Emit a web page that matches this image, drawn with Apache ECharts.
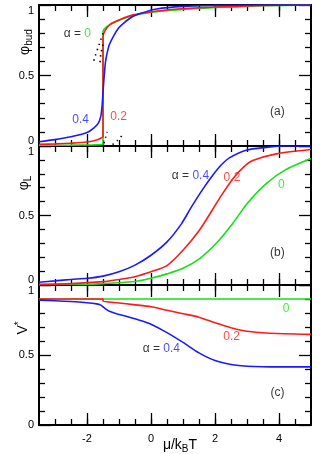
<!DOCTYPE html>
<html><head><meta charset="utf-8">
<script src="https://cdn.jsdelivr.net/npm/echarts@6/dist/echarts.min.js"></script>
<style>html,body{margin:0;padding:0;background:#fff}#c{width:325px;height:454px}</style>
</head><body><div id="c"></div>
<script>
// ---------- data ----------
const xMin = -3.5, xMax = 5;
const xMajorTicks = [-2, 0, 2, 4];
const xMinorTicks = [-3, -2.5, -2, -1.5, -1, -0.5, 0, 0.5, 1, 1.5, 2, 2.5, 3, 3.5, 4, 4.5];

// panel (a): phi_bud vs mu/kBT
const budGreen = [[-3.5,0.005],[-2.5,0.006],[-1.8,0.008],[-1.5,0.01],[-1.5,0.81],[-1.38,0.846],[-1.12,0.88],[-0.86,0.905],[-0.34,0.936],[0.49,0.96],[1.52,0.976],[2.55,0.986],[3.5,0.995],[5,1.0]];
const budRed = [[-3.5,0.012],[-3,0.015],[-2.5,0.02],[-2,0.028],[-1.7,0.042],[-1.55,0.058],[-1.5,0.065],[-1.5,0.775],[-1.43,0.82],[-1.27,0.865],[-0.96,0.898],[-0.55,0.93],[0.49,0.965],[1.52,0.98],[2.5,0.99],[3.5,0.997],[5,1.0]];
const budBlue = [[-3.5,0.03],[-3,0.045],[-2.5,0.065],[-2,0.095],[-1.8,0.125],[-1.65,0.16],[-1.57,0.21],[-1.53,0.28],[-1.5,0.38],[-1.48,0.445],[-1.45,0.53],[-1.42,0.6],[-1.37,0.66],[-1.3,0.72],[-1.17,0.78],[-1.0,0.84],[-0.86,0.87],[-0.6,0.915],[-0.34,0.94],[0.18,0.972],[1,0.99],[2,0.997],[3,1.0],[5,1.0]];
const budUnstable1 = [[-1.5,0.80],[-1.62,0.72],[-1.74,0.64],[-1.82,0.58]];
const budUnstable2 = [[-1.5,0.72],[-1.57,0.65],[-1.6,0.57]];
const budUnstable3 = [[-1.47,0.02],[-1.42,0.06],[-1.37,0.1]];
const budUnstable4 = [[-1.2,0.01],[-1.05,0.04],[-0.9,0.075]];

// panel (b): phi_L
const lGreen = [[-3.5,0.002],[-2,0.005],[-1.5,0.01],[-0.5,0.025],[0,0.048],[0.5,0.08],[1,0.12],[1.52,0.19],[2.04,0.30],[2.56,0.445],[3.02,0.59],[3.6,0.73],[4.21,0.83],[4.94,0.905],[5,0.91]];
const lRed = [[-3.5,0.005],[-2.5,0.01],[-1.5,0.024],[-1,0.04],[-0.5,0.06],[0,0.095],[0.5,0.14],[1,0.25],[1.5,0.39],[1.93,0.545],[2.2,0.645],[2.56,0.765],[2.9,0.85],[3.18,0.895],[3.95,0.945],[5,0.975]];
const lBlue = [[-3.5,0.02],[-3,0.03],[-2.5,0.04],[-2,0.048],[-1.5,0.064],[-1,0.095],[-0.5,0.143],[0,0.214],[0.5,0.31],[0.95,0.44],[1.26,0.56],[1.62,0.69],[1.93,0.79],[2.2,0.865],[2.45,0.915],[2.97,0.97],[3.6,0.99],[4.2,1.0],[5,1.0]];

// panel (c): V*
const vGreen = [[-3.5,0.9],[5,0.9]];
const vRed = [[-3.5,0.9],[-1.5,0.9],[-1.5,0.885],[-1,0.872],[-0.55,0.86],[0,0.845],[0.5,0.82],[1,0.795],[1.5,0.77],[2,0.73],[2.5,0.695],[3,0.67],[3.6,0.657],[5,0.647]];
const vBlue = [[-3.5,0.892],[-3,0.888],[-2.5,0.882],[-2,0.873],[-1.7,0.865],[-1.58,0.858],[-1.45,0.835],[-1.3,0.812],[-1.1,0.797],[-0.75,0.775],[-0.3,0.745],[0,0.72],[0.5,0.66],[1,0.59],[1.5,0.515],[2,0.46],[2.5,0.432],[3,0.42],[4,0.415],[5,0.415]];

// annotation texts and anchors
const annotA = [
  {at:[-2.73,0.80], text:'{k|α = }{g|0}', align:'left'},
  {at:[-2.2,0.19], text:'{b|0.4}', align:'center'},
  {at:[-1.01,0.21], text:'{r|0.2}', align:'center'},
  {at:[3.95,0.24], text:'{k|(a)}', align:'center'}
];
const annotB = [
  {at:[0.65,0.79], text:'{k|α = }{b|0.4}', align:'left'},
  {at:[2.53,0.77], text:'{r|0.2}', align:'center'},
  {at:[4.07,0.72], text:'{g|0}', align:'center'},
  {at:[3.95,0.236], text:'{k|(b)}', align:'center'}
];
const annotC = [
  {at:[4.22,0.83], text:'{g|0}', align:'center'},
  {at:[2.52,0.628], text:'{r|0.2}', align:'center'},
  {at:[-0.26,0.547], text:'{k|α = }{b|0.4}', align:'left'},
  {at:[3.95,0.228], text:'{k|(c)}', align:'center'}
];

// ---------- styles ----------
const FONT = 'Liberation Sans, Arial, sans-serif';
const GREEN = '#14e014', RED = '#ff1a1a', BLUE = '#1a1aff';
const grids = [
  {left:39, right:14, top:5, height:141},
  {left:39, right:14, top:146, height:139},
  {left:39, right:14, top:285, height:140}
];

const xAxes = [], yAxes = [];
grids.forEach((g, i) => {
  const base = {type:'value', min:xMin, max:xMax, gridIndex:i, splitLine:{show:false}};
  const line = {show:true, onZero:false, lineStyle:{color:'#000', width:2}};
  xAxes.push(Object.assign({}, base, {position:'bottom', axisLine:line,
    axisTick:{show:true, inside:true, length:12, customValues:xMajorTicks, lineStyle:{color:'#000', width:1.3}},
    axisLabel:{show:i===2, customValues:xMajorTicks, color:'#000', fontSize:11}}));
  xAxes.push(Object.assign({}, base, {position:'top', axisLine:line,
    axisTick:{show:true, inside:true, length:12, customValues:xMajorTicks, lineStyle:{color:'#000', width:1.3}},
    axisLabel:{show:false}}));
  xAxes.push(Object.assign({}, base, {position:'bottom', axisLine:{show:false, onZero:false},
    axisTick:{show:true, inside:true, length:6, customValues:xMinorTicks, lineStyle:{color:'#000', width:1.3}},
    axisLabel:{show:false}}));
  xAxes.push(Object.assign({}, base, {position:'top', axisLine:{show:false, onZero:false},
    axisTick:{show:true, inside:true, length:6, customValues:xMinorTicks, lineStyle:{color:'#000', width:1.3}},
    axisLabel:{show:false}}));
  const ybase = {type:'value', min:0, max:1, interval:0.5, gridIndex:i, splitLine:{show:false},
    axisLine:line,
    axisTick:{show:true, inside:true, length:12, lineStyle:{color:'#000', width:1.3}},
    minorTick:{show:true, splitNumber:5, length:6, lineStyle:{color:'#000', width:1.3}}};
  yAxes.push(Object.assign({}, ybase, {position:'left',
    axisLabel:{show:true, color:'#000', fontSize:11, margin:5,
      formatter: v => String(v),
      verticalAlignMaxLabel:'top', verticalAlignMinLabel: i===2 ? 'middle' : 'bottom'}}));
  yAxes.push(Object.assign({}, ybase, {position:'right', axisLabel:{show:false}}));
});

function lineSeries(panel, data, color, dotted) {
  return {type:'line', xAxisIndex:panel*4, yAxisIndex:panel*2, data:data,
    showSymbol:false, smooth:0.25, color: dotted ? '#000' : color,
    lineStyle: dotted ? {color:'#000', width:1.6, type:[1.5,4]} : {color:color, width:1.6}};
}
const rich = {
  k:{color:'#000', fontSize:12},
  g:{color:GREEN, fontSize:12},
  r:{color:RED, fontSize:12},
  b:{color:BLUE, fontSize:12}
};
function annotSeries(panel, list) {
  return {type:'scatter', xAxisIndex:panel*4, yAxisIndex:panel*2, symbolSize:0,
    data: list.map(a => ({value:a.at, label:{show:true, position:'inside', align:a.align, verticalAlign:'middle',
      formatter:a.text, rich:rich}}))};
}

const series = [
  lineSeries(0, budGreen, GREEN), lineSeries(0, budRed, RED), lineSeries(0, budBlue, BLUE),
  lineSeries(0, budUnstable1, null, true), lineSeries(0, budUnstable2, null, true),
  lineSeries(0, budUnstable3, null, true), lineSeries(0, budUnstable4, null, true),
  lineSeries(1, lGreen, GREEN), lineSeries(1, lRed, RED), lineSeries(1, lBlue, BLUE),
  lineSeries(2, vGreen, GREEN), lineSeries(2, vRed, RED), lineSeries(2, vBlue, BLUE),
  annotSeries(0, annotA), annotSeries(1, annotB), annotSeries(2, annotC)
];

const titleRich = {
  m:{fontSize:14, color:'#000', lineHeight:18},
  s:{fontSize:10, color:'#000', verticalAlign:'bottom', lineHeight:10},
  p:{fontSize:10, color:'#000', verticalAlign:'top', lineHeight:10}
};
const graphic = [
  {type:'text', x:25, y:42, rotation:Math.PI/2,
    style:{text:'{m|φ}{s|bud}', rich:titleRich, align:'center', verticalAlign:'middle'}},
  {type:'text', x:24, y:183, rotation:Math.PI/2,
    style:{text:'{m|φ}{s|L}', rich:titleRich, align:'center', verticalAlign:'middle'}},
  {type:'text', x:23, y:328, rotation:Math.PI/2,
    style:{text:'{m|V}{p|*}', rich:titleRich, align:'center', verticalAlign:'middle'}},
  {type:'text', x:180, y:445,
    style:{text:'{m|μ/k}{s|B}{m|T}', rich:titleRich, align:'center', verticalAlign:'middle'}}
];

const chart = echarts.init(document.getElementById('c'));
chart.setOption({animation:false, textStyle:{fontFamily:FONT}, grid:grids, xAxis:xAxes, yAxis:yAxes, series:series, graphic:graphic});
</script>
</body></html>
